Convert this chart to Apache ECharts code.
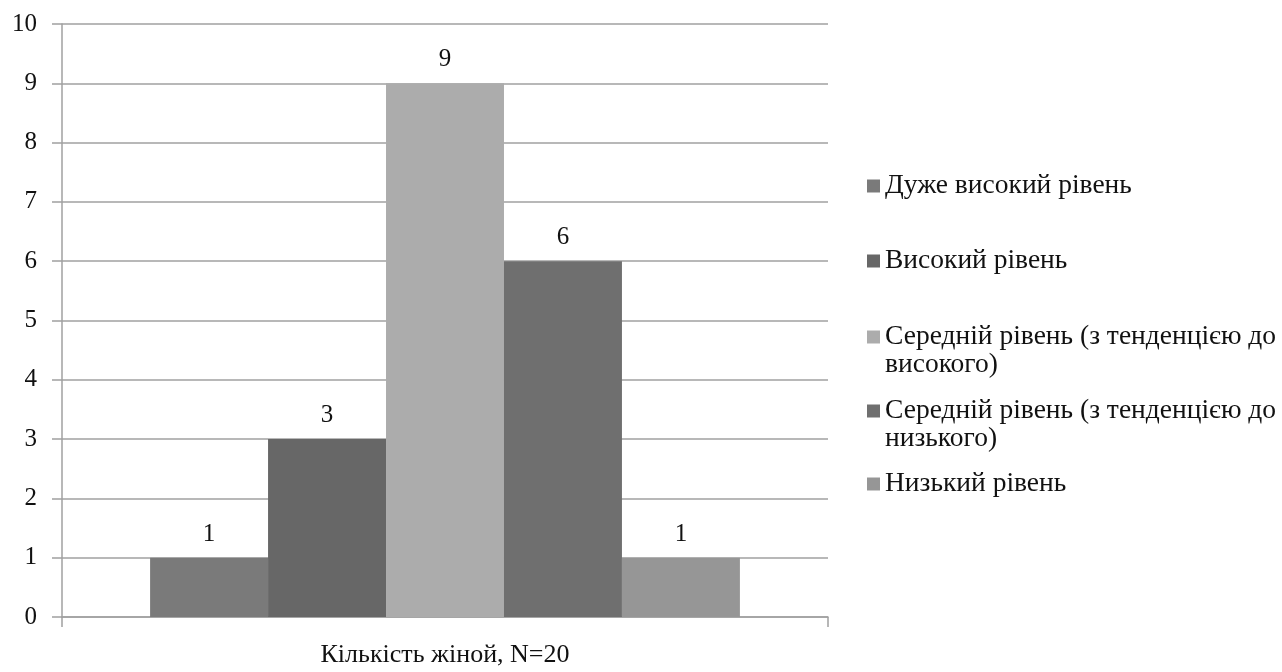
<!DOCTYPE html>
<html>
<head>
<meta charset="utf-8">
<script src="https://cdn.jsdelivr.net/npm/echarts@6/dist/echarts.min.js"></script>
<style>
  html, body { margin: 0; padding: 0; background: #ffffff; }
  #chart { width: 1282px; height: 672px; }
</style>
</head>
<body>
<div id="chart"></div>
<script>
// Category and series data
const categories = ['Кількість жіной, N=20'];
const seriesNames = [
  'Дуже високий рівень',
  'Високий рівень',
  'Середній рівень (з тенденцією до\nвисокого)',
  'Середній рівень (з тенденцією до\nнизького)',
  'Низький рівень'
];
const veryHigh = [1];
const high = [3];
const midHigh = [9];
const midLow = [6];
const low = [1];
const seriesValues = [veryHigh, high, midHigh, midLow, low];
const yTicks = [0, 1, 2, 3, 4, 5, 6, 7, 8, 9, 10];

const colors = ['#7a7a7a', '#676767', '#acacac', '#6f6f6f', '#969696'];
const FONT = 'Liberation Serif';
const TEXT = '#111111';
const LINE = '#a0a0a0';

// Legend entries are placed one by one down the right-hand column;
// the icon sits level with the first line of a wrapped name.
const legendCenters = [186, 261, 337, 411, 484];
const LH = 28;

const legends = seriesNames.map((name, i) => {
  const twoLine = name.indexOf('\n') >= 0;
  return {
    data: [name],
    left: 867,
    top: twoLine ? legendCenters[i] - 1.5 * LH : legendCenters[i] - LH / 2,
    itemWidth: 13,
    itemHeight: 13,
    itemGap: 0,
    icon: 'rect',
    selectedMode: false,
    // a leading blank line lifts the wrapped text so its first line meets the icon
    formatter: (n) => (n.indexOf('\n') >= 0 ? '\n' + n : n),
    textStyle: {
      fontFamily: FONT,
      fontSize: 27.5,
      color: TEXT,
      lineHeight: LH
    },
    padding: 0
  };
});

const chart = echarts.init(document.getElementById('chart'));
chart.setOption({
  animation: false,
  backgroundColor: '#ffffff',
  color: colors,
  legend: legends,
  grid: { left: 62, right: 454, top: 24, bottom: 55, containLabel: false },
  xAxis: {
    type: 'category',
    data: categories,
    axisLine: { lineStyle: { color: LINE, width: 1.5 } },
    axisTick: { show: true, length: 10, lineStyle: { color: LINE, width: 1.5 } },
    axisLabel: { fontFamily: FONT, fontSize: 26, color: TEXT, margin: 25 }
  },
  yAxis: {
    type: 'value',
    min: yTicks[0],
    max: yTicks[yTicks.length - 1],
    interval: 1,
    axisLine: { show: true, lineStyle: { color: LINE, width: 1.5 } },
    axisTick: { show: true, length: 10, lineStyle: { color: LINE, width: 1.5 } },
    axisLabel: { fontFamily: FONT, fontSize: 25, color: TEXT, margin: 25 },
    splitLine: { lineStyle: { color: LINE, width: 1.5 } }
  },
  series: seriesNames.map((name, i) => ({
    type: 'bar',
    name: name,
    data: seriesValues[i],
    barGap: '0%',
    barCategoryGap: '23%',
    itemStyle: { color: colors[i] },
    label: {
      show: true,
      position: 'top',
      distance: 11,
      fontFamily: FONT,
      fontSize: 25,
      color: TEXT
    }
  }))
});
</script>
</body>
</html>
